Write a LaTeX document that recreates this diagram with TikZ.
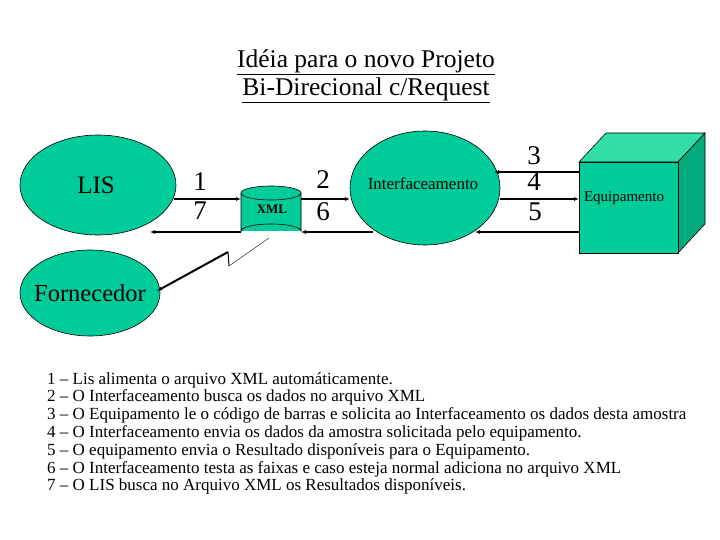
\documentclass[tikz,border=0pt]{standalone}
\usepackage{fontspec}
\setmainfont{Liberation Serif}
\usetikzlibrary{shapes.geometric,arrows.meta}
\definecolor{tq}{RGB}{0,204,153}
\definecolor{tqtop}{RGB}{51,221,170}
\definecolor{tqside}{RGB}{0,170,125}
\begin{document}
\begin{tikzpicture}[x=1pt,y=-1pt,
  blob/.style={ellipse,draw,fill=tq,line width=0.6pt},
  arr/.style={-{Latex[length=5pt,width=4pt]},line width=1.6pt},
  num/.style={font=\fontsize{27}{29}\selectfont,inner sep=1pt}]
\useasboundingbox (0,0) rectangle (720,540);
\node[font=\fontsize{25.5}{28}\selectfont] (t1) at (366,62) {\underline{Idéia para o novo Projeto}};
\node[font=\fontsize{25.5}{28}\selectfont] (t2) at (366,90) {\underline{Bi-Direcional c/Request}};
\node[blob,minimum width=156,minimum height=100] (lis) at (98,185) {};
\node[font=\fontsize{25}{28}\selectfont] (lisl) at (96,185) {LIS};
\node[blob,minimum width=140,minimum height=86] (forn) at (90,293) {};
\node[font=\fontsize{24.5}{28}\selectfont] (fornl) at (90,293) {Fornecedor};
\node[blob,minimum width=150,minimum height=114] (int) at (425,188) {};
\node[font=\fontsize{17}{19}\selectfont] (intl) at (423,184) {Interfaceamento};
% cylinder
\fill[tq] (241,193) rectangle (301,231);
\draw[fill=tq,line width=0.6pt] (241,193) -- (241,231) arc[start angle=180,end angle=360,x radius=30,y radius=7] -- (301,193);
\draw[fill=tq,line width=0.6pt] (271,193) ellipse[x radius=30,y radius=7];
\node[font=\bfseries\fontsize{13}{15}\selectfont] (xml) at (272,209) {XML};
\coordinate (xb) at (269,238);
% cube
\draw[fill=tqtop,line width=0.6pt] (579,162) -- (606,133) -- (705,133) -- (678,162) -- cycle;
\draw[fill=tqside,line width=0.6pt] (678,162) -- (705,133) -- (705,224) -- (678,253) -- cycle;
\draw[fill=tq,line width=0.6pt] (579,162) rectangle (678,253);
\node[font=\fontsize{15}{17}\selectfont] (eq) at (624,198) {Equipamento};
% arrows
\coordinate (a1s) at (174,199); \coordinate (a1e) at (241,199);
\draw[arr] (a1s) -- (a1e);
\coordinate (a7s) at (241,232); \coordinate (a7e) at (150,232);
\draw[arr] (a7s) -- (a7e);
\coordinate (a2s) at (301,199); \coordinate (a2e) at (350,199);
\draw[arr] (a2s) -- (a2e);
\coordinate (a6s) at (373,232); \coordinate (a6e) at (301,232);
\draw[arr] (a6s) -- (a6e);
\coordinate (a3s) at (579,172); \coordinate (a3e) at (494,172);
\draw[arr] (a3s) -- (a3e);
\coordinate (a4s) at (500,199); \coordinate (a4e) at (579,199);
\draw[arr] (a4s) -- (a4e);
\coordinate (a5s) at (579,232); \coordinate (a5e) at (475,232);
\draw[arr] (a5s) -- (a5e);
% lightning
\coordinate (z1) at (229,266); \coordinate (z2) at (228,252); \coordinate (fe) at (157,291);
\draw[line width=0.4pt] (xb) -- (z1);
\draw[line width=1pt] (z1) -- (z2);
\draw[arr,line width=2pt] (z2) -- (fe);
\node[num] (n1) at (200,182) {1};
\node[num] (n7) at (200,211) {7};
\node[num] (n2) at (323,180) {2};
\node[num] (n6) at (323,212) {6};
\node[num] (n3) at (534,156) {3};
\node[num] (n4) at (534,182) {4};
\node[num] (n5) at (535,212) {5};
\node[anchor=north west,align=left,font=\fontsize{17}{17.8}\selectfont,inner sep=0] (list) at (47,372) {%
1 – Lis alimenta o arquivo XML automáticamente.\\
2 – O Interfaceamento busca os dados no arquivo XML\\
3 – O Equipamento le o código de barras e solicita ao Interfaceamento os dados desta amostra\\
4 – O Interfaceamento envia os dados da amostra solicitada pelo equipamento.\\
5 – O equipamento envia o Resultado disponíveis para o Equipamento.\\
6 – O Interfaceamento testa as faixas e caso esteja normal adiciona no arquivo XML\\
7 – O LIS busca no Arquivo  XML os Resultados disponíveis.};
\end{tikzpicture}
\end{document}
